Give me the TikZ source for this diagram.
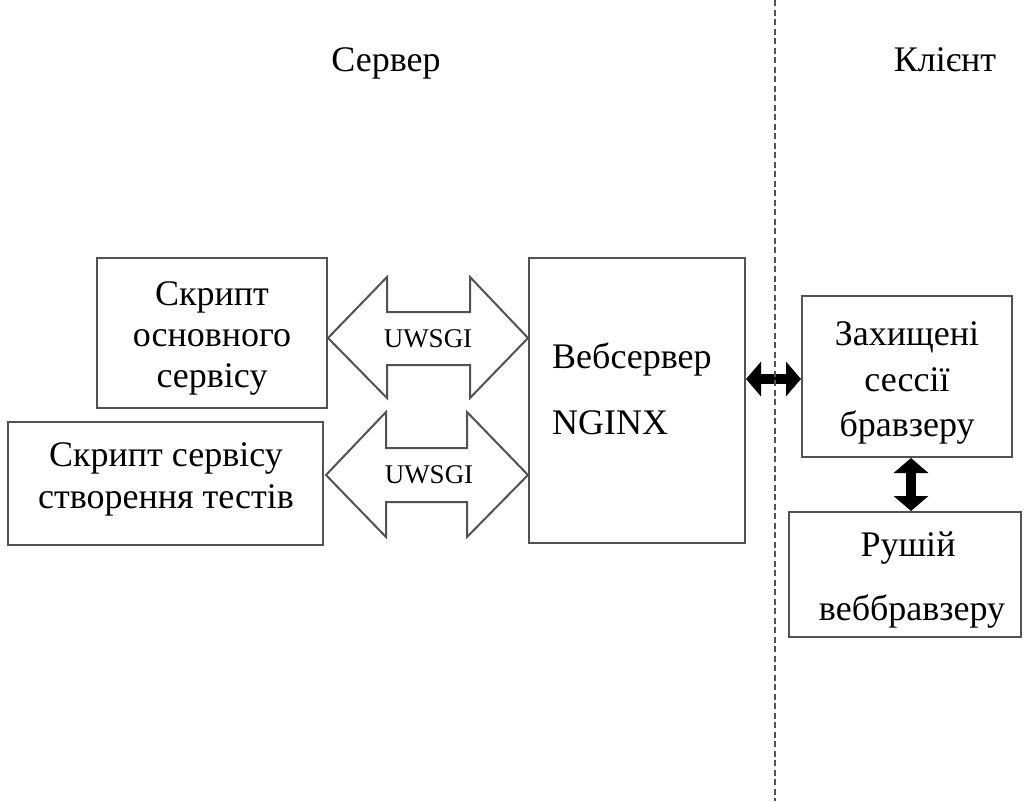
\documentclass[tikz,border=0pt]{standalone}
\usepackage{fontspec}
\setmainfont{Liberation Serif}
\usetikzlibrary{arrows.meta}
\begin{document}
\begin{tikzpicture}[x=1pt,y=-1pt,
  box/.style={draw=black!68, line width=2pt, inner sep=0pt},
  txt/.style={inner sep=0pt, anchor=base, font=\fontsize{36}{41}\selectfont},
  txtl/.style={txt, anchor=base west},
  fat/.style={draw=black!68, line width=2pt, fill=white, line join=miter},
  lbl/.style={inner sep=0pt, anchor=base, font=\fontsize{27}{30}\selectfont},
  blk/.style={line width=9.5pt, {Triangle[length=15pt,width=34pt]}-{Triangle[length=15pt,width=34pt]}}
]
\useasboundingbox (0,0) rectangle (1025,801);
\fill[white] (0,0) rectangle (1025,801);

% divider
\coordinate (dtop) at (775,0);
\coordinate (dbot) at (775,801);

\node[txt] (srv) at (386,71.7) {Сервер};
\node[txt] (cli) at (945,71.7) {Клієнт};

\node[box, minimum width=230pt, minimum height=150pt] (s1) at (212,333) {};
\node[txt] (s1a) at (212,305) {Скрипт};
\node[txt] (s1b) at (212,346) {основного};
\node[txt] (s1c) at (212,387) {сервісу};

\node[box, minimum width=315pt, minimum height=123pt] (s2) at (165.5,483.5) {};
\node[txt] (s2a) at (166,466) {Скрипт сервісу};
\node[txt] (s2b) at (166,508) {створення тестів};

\node[box, minimum width=216pt, minimum height=285pt] (ng) at (637,400.5) {};
\node[txtl] (nga) at (552,368) {Вебсервер};
\node[txtl] (ngb) at (552,434) {NGINX};

\node[box, minimum width=210pt, minimum height=161pt] (cs) at (907,376.5) {};
\node[txt] (csa) at (907,345) {Захищені};
\node[txt] (csb) at (907,391) {сессії};
\node[txt] (csc) at (907,436.5) {бравзеру};

\node[box, minimum width=232pt, minimum height=125pt] (eng) at (905,574.5) {};
\node[txt] (enga) at (908,556) {Рушій};
\node[txt] (engb) at (912,620) {веббравзеру};

% UWSGI fat double arrows
\draw[fat] (328,338) -- (387,277) -- (387,312) -- (470,312) -- (470,277) -- (528,338)
  -- (470,398) -- (470,365) -- (387,365) -- (387,398) -- cycle;
\node[lbl] (u1) at (428,347) {UWSGI};
\draw[fat] (326,475) -- (386,412) -- (386,448) -- (467,448) -- (467,412) -- (528,475)
  -- (467,537) -- (467,502) -- (386,502) -- (386,537) -- cycle;
\node[lbl] (u2) at (429,483) {UWSGI};

% black arrows
\draw[blk] (ng.east |- 0,379) -- (cs.west |- 0,379);
\draw[blk] (cs.south -| 911,0) -- (eng.north -| 911,0);

% dashed divider on top
\draw[black!68, line width=1.3pt, dash pattern=on 6pt off 3.5pt] (dtop) -- (dbot);
\end{tikzpicture}
\end{document}
